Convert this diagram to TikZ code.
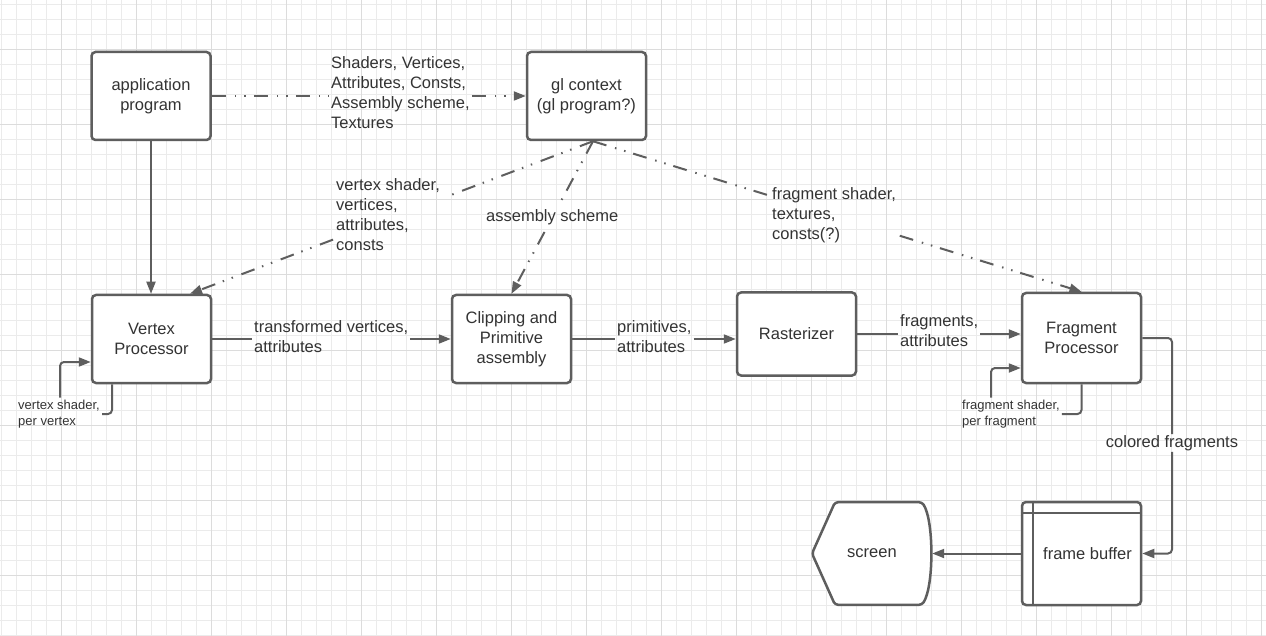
\documentclass[tikz,border=0pt]{standalone}
\usepackage{fontspec}
\setmainfont{Liberation Sans}
\usetikzlibrary{positioning,calc,arrows.meta}
\definecolor{linegray}{HTML}{5E5E5E}
\definecolor{textgray}{HTML}{333333}
\definecolor{gridminor}{HTML}{EBEBEB}
\definecolor{gridmajor}{HTML}{DCDCDC}

\begin{document}
\begin{tikzpicture}[x = 1pt, y = -1pt,
  box/.style = {draw = linegray, line width = 2.5pt, rounded corners = 4pt, fill = white, minimum width = 119pt, minimum height = 88pt, align = center, text = textgray, font = \fontsize{16.5}{20}\selectfont},
  lbl/.style = {anchor = west, inner xsep = 2pt, inner ysep = 1pt, align = left, text = textgray, font = \fontsize{16.5}{20}\selectfont},
  smalllbl/.style = {lbl, inner ysep = 2pt, font = \fontsize{13}{16}\selectfont},
  flow/.style = {draw = linegray, line width = 2pt},
  ctrl/.style = {flow, dash pattern = on 14pt off 9pt on 1.5pt off 8pt on 1.5pt off 8pt},
  arrowed/.style = {-{Triangle[length = 12pt, width = 9pt]}}
]
\useasboundingbox (0,0) rectangle (1266,636);
\fill[white] (0,0) rectangle (1266,636);
% grid
\foreach \x in {1.7,16.7,...,1266} \draw[gridminor, line width = 1pt] (\x,0) -- (\x,636);
\foreach \y in {5,20,...,636} \draw[gridminor, line width = 1pt] (0,\y) -- (1266,\y);
\foreach \x in {61.7,136.7,...,1266} \draw[gridmajor, line width = 1pt] (\x,0) -- (\x,636);
\foreach \y in {50,125,...,636} \draw[gridmajor, line width = 1pt] (0,\y) -- (1266,\y);

% stages
\node[box] (app) at (151, 96) {application\\program};
\node[box] (gl) at (586.5, 96) {gl context\\(gl program?)};
\node[box] (vp) at (151.5, 339) {Vertex\\Processor};
\node[box] (clip) at (511.5, 339) {Clipping and\\Primitive\\assembly};
\node[box, minimum height = 83pt] (rast) at (796.5, 334) {Rasterizer};
\node[box, minimum height = 90pt] (fp) at (1081.5, 338) {Fragment\\Processor};
\node[box, minimum height = 103pt] (fb) at (1081.5, 553.5) {\hspace*{12pt}frame buffer};
\draw[linegray, line width = 2.5pt] ([xshift = 12pt]fb.north west) -- ([xshift = 12pt]fb.south west);
\draw[linegray, line width = 2.5pt] ([yshift = -12pt]fb.north west) -- ([yshift = -12pt]fb.north east);
\draw[linegray, line width = 2.5pt, fill = white, rounded corners = 3pt] (812,553.5) -- (835,502.2) -- (922,502.2) .. controls (934,521) and (934,586) .. (922,604.8) -- (835,604.8) -- cycle;
\node[minimum width = 120pt, minimum height = 103pt, text = textgray, font = \fontsize{16.5}{20}\selectfont] (screen) at (872, 553.5) {screen};

% labels
\node[lbl] (shlbl) at (329, 93) {Shaders, Vertices,\\Attributes, Consts,\\Assembly scheme,\\Textures};
\node[lbl] (vslbl) at (334, 215) {vertex shader,\\vertices,\\attributes,\\consts};
\coordinate (glS) at ([xshift = 6.5pt]gl.south);
\coordinate (vpN) at ([xshift = 38.5pt]vp.north);
\node[lbl, anchor = center, inner xsep = 0pt] (aslbl) at ($(glS)!0.5!(clip.north)$) {assembly scheme};
\node[lbl] (fslbl) at (770, 215.5) {fragment shader,\\textures,\\consts(?)};
\node[lbl] (tvlbl) at (252, 337) {transformed vertices,\\attributes};
\node[lbl] (prlbl) at (615, 337) {primitives,\\attributes};
\node[lbl] (frlbl) at (898, 331) {fragments,\\attributes};
\node[lbl, anchor = center] (cflbl) at (1172, 443) {colored fragments};
\node[smalllbl] (vsplbl) at (16, 414) {vertex shader,\\per vertex};
\node[smalllbl] (fsplbl) at (960, 414) {fragment shader,\\per fragment};

% gl context links
\draw[ctrl] (app.east) -- (app.east -| shlbl.west);
\draw[ctrl, arrowed] (gl.west -| shlbl.east) -- (gl.west);
\draw[ctrl] (glS) -- ($(glS)!0.365!(vpN)$);
\draw[ctrl, arrowed] ($(glS)!0.645!(vpN)$) -- (vpN);
\draw[ctrl] (glS) -- ($(glS)!0.43!(clip.north)$);
\draw[ctrl, arrowed] ($(glS)!0.595!(clip.north)$) -- (clip.north);
\draw[ctrl] (glS) -- ($(glS)!0.362!(fp.north)$);
\draw[ctrl, arrowed] ($(glS)!0.628!(fp.north)$) -- (fp.north);

% pipeline
\draw[flow, arrowed] (app.south) -- (app.south |- vp.north);
\draw[flow] (vp.east) -- (vp.east -| tvlbl.west);
\draw[flow, arrowed] (clip.west -| tvlbl.east) -- (clip.west);
\draw[flow] (clip.east) -- (clip.east -| prlbl.west);
\draw[flow, arrowed] (prlbl.east |- clip.east) -- (rast.west |- clip.east);
\draw[flow] (rast.east) -- (rast.east -| frlbl.west);
\draw[flow, arrowed] (frlbl.east |- rast.east) -- (fp.west |- rast.east);
\draw[flow, rounded corners = 4pt] (fp.east) -| (cflbl.north);
\draw[flow, arrowed, rounded corners = 4pt] (cflbl.south) |- (fb.east);
\draw[flow, arrowed] (fb.west) -- (screen.east);

% shader loops
\draw[flow, rounded corners = 4pt] ([xshift = -39.5pt]vp.south) |- (vsplbl.east);
\draw[flow, arrowed, rounded corners = 4pt] ([xshift = 44pt]vsplbl.north west) |- ([yshift = -23pt]vp.west);
\draw[flow, rounded corners = 4pt] (fp.south) |- (fsplbl.east);
\draw[flow, arrowed, rounded corners = 4pt] ([xshift = 31pt]fsplbl.north west) |- ([yshift = -30pt]fp.west);
\end{tikzpicture}
\end{document}
